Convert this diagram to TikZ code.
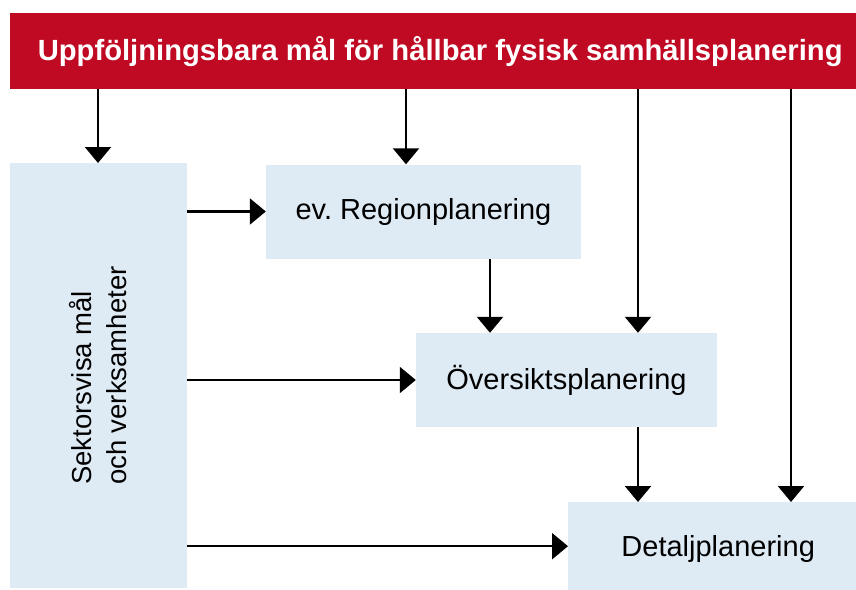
\documentclass[tikz,border=0pt]{standalone}
\usepackage{fontspec}
\setmainfont{Liberation Sans}
\usetikzlibrary{arrows.meta}
\definecolor{titlered}{RGB}{192,10,35}
\definecolor{boxblue}{RGB}{222,235,245}
\frenchspacing
\begin{document}
\begin{tikzpicture}[x=1pt,y=-1pt,
  box/.style={fill=boxblue, draw=none, inner sep=0pt, font=\fontsize{29}{35}\selectfont},
  conn/.style={line width=2.3pt, -{Triangle[length=16pt,width=26pt]}},
]
\useasboundingbox (0,0) rectangle (856,589);
% title bar
\node[fill=titlered, text=white, font=\bfseries\fontsize{29.2}{35}\selectfont,
      minimum width=860pt, minimum height=76pt, inner sep=0pt, anchor=north west]
      (title) at (10,13) {Uppföljningsbara mål för hållbar fysisk samhällsplanering};
% boxes
\node[box, minimum width=177pt, minimum height=425pt, anchor=north west] (sek) at (10,163) {};
\node[rotate=90, align=left, inner sep=0pt, font=\fontsize{27.5}{35}\selectfont] (sektext) at ([xshift=-1pt]sek.center) {Sektorsvisa mål\\och verksamheter};
\node[box, minimum width=315pt, minimum height=94pt] (reg) at (423.5,211.5) {ev. Regionplanering};
\node[box, minimum width=301pt, minimum height=94pt] (ovs) at (566.5,380) {Översiktsplanering};
\node[box, minimum width=300pt, minimum height=94pt, anchor=north west] (det) at (568,502) {Detaljplanering};
% x positions of vertical connectors
\coordinate (xa) at (98,0);
\coordinate (xb) at (406,0);
\coordinate (xc) at (638,0);
\coordinate (xd) at (791,0);
\coordinate (xe) at (490,0);
\coordinate (detin) at ([yshift=3pt]det.west);
% connectors
\draw[conn] (xa |- title.south) -- (xa |- sek.north);
\draw[conn] (xb |- title.south) -- (xb |- reg.north);
\draw[conn] (xc |- title.south) -- (xc |- ovs.north);
\draw[conn] (xd |- title.south) -- (xd |- det.north);
\draw[conn] (xe |- reg.south) -- (xe |- ovs.north);
\draw[conn] (xc |- ovs.south) -- (xc |- det.north);
\draw[conn] (sek.east |- reg.west) -- (reg.west);
\draw[conn] (sek.east |- ovs.west) -- (ovs.west);
\draw[conn] (sek.east |- detin) -- (detin);
\end{tikzpicture}
\end{document}
